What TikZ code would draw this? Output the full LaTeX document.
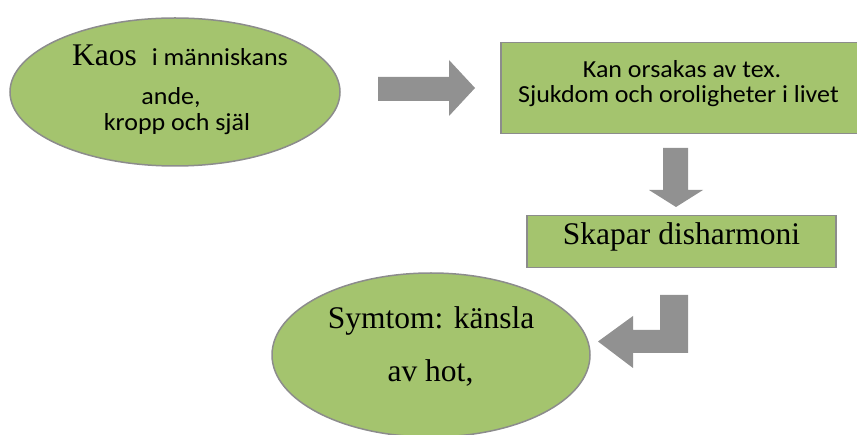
\documentclass[tikz,border=0pt]{standalone}
\usepackage{fontspec}
\usetikzlibrary{shapes.geometric}
\newfontfamily\tnrfont{Liberation Serif}
\newfontfamily\calfont{Carlito}
\newcommand{\bigserif}{\tnrfont\fontsize{31.5}{33}\selectfont}
\newcommand{\smallsans}{\calfont\fontsize{24.5}{26}\selectfont}
\newcommand{\widetext}[1]{\scalebox{1.06}[1]{#1}}
\definecolor{boxgreen}{RGB}{164,196,110}
\definecolor{edgegray}{RGB}{140,140,140}
\definecolor{arrowgray}{RGB}{145,145,145}
\begin{document}
\begin{tikzpicture}[x=1pt,y=-1pt,
  shapebox/.style={draw=edgegray, line width=1.5pt, fill=boxgreen, inner sep=0pt},
  blockarrow/.style={fill=arrowgray, draw=none},
  serifline/.style={inner sep=0pt, anchor=base, font=\bigserif},
  sansline/.style={inner sep=0pt, anchor=base, font=\smallsans}]
\useasboundingbox (0,0) rectangle (857,435);
% shapes
\node[shapebox, ellipse, minimum width=330pt, minimum height=148pt] (kaos) at (175,92) {};
\node[shapebox, rectangle, minimum width=358pt, minimum height=91pt, anchor=north west] (orsak) at (500,42) {};
\node[shapebox, rectangle, minimum width=309pt, minimum height=52pt, anchor=north west] (disharm) at (526,215) {};
\node[shapebox, ellipse, minimum width=318pt, minimum height=164pt] (symtom) at (431,355) {};
% texts
\node[sansline] (kaosA) at (180,66) {{\bigserif Kaos}\hspace{15pt}\widetext{i människans}};
\node[sansline] (kaosB) at (171,105) {\widetext{ande,}};
\node[sansline] (kaosC) at (177,131) {\widetext{kropp och själ}};
\node[sansline] (orsakA) at (682,78) {\widetext{Kan orsakas av tex.}};
\node[sansline] (orsakB) at (678.5,103) {\widetext{Sjukdom och oroligheter i livet}};
\node[serifline] (disharmT) at (681.5,245) {Skapar disharmoni};
\node[serifline] (symA) at (431,329) {Symtom: känsla};
\node[serifline] (symB) at (430.5,382) {av hot,};
% block arrows
\fill[blockarrow] (378,77) -- (449,77) -- (449,60) -- (475,88) -- (449,116) -- (449,101) -- (378,101) -- cycle;
\fill[blockarrow] (663,148) -- (688,148) -- (688,190) -- (703,190) -- (676,207) -- (649,190) -- (663,190) -- cycle;
\fill[blockarrow] (660,295) -- (688,295) -- (688,353) -- (633,353) -- (633,368) -- (598,341.5) -- (633,316) -- (633,330) -- (660,330) -- cycle;
\end{tikzpicture}
\end{document}
